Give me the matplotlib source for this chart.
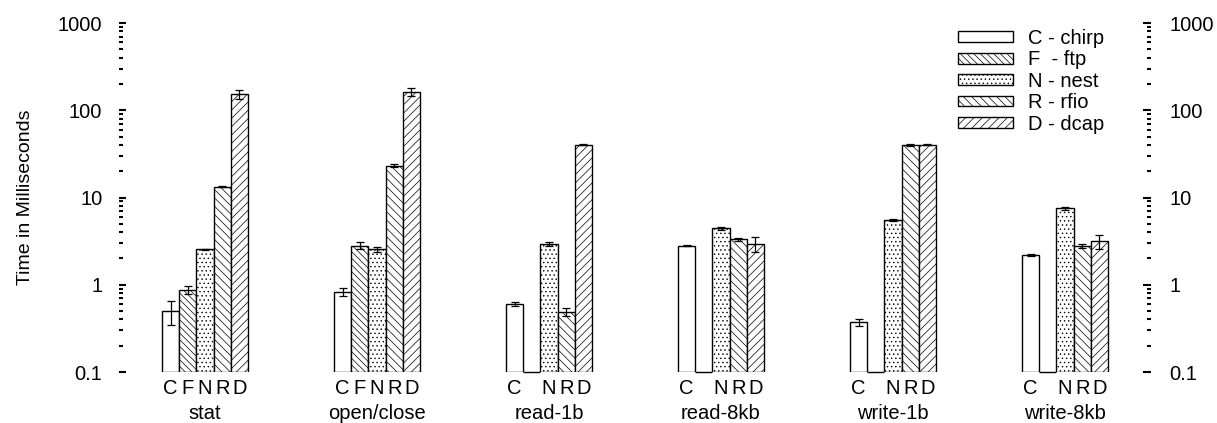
import numpy as np
import matplotlib.pyplot as plt
from matplotlib.patches import Patch

plt.rcParams['font.family'] = ['Liberation Sans', 'DejaVu Sans']
plt.rcParams['hatch.linewidth'] = 0.5

# --- data (ms, log scale); None = not measured ---
groups = ['stat', 'open/close', 'read-1b', 'read-8kb', 'write-1b', 'write-8kb']
series = ['C - chirp', 'F  - ftp', 'N - nest', 'R - rfio', 'D - dcap']
letters = ['C', 'F', 'N', 'R', 'D']

chirp = [0.50, 0.83, 0.60, 2.80, 0.375, 2.20]
ftp = [0.87, 2.80, None, None, None, None]
nest = [2.54, 2.54, 2.93, 4.43, 5.52, 7.5]
rfio = [13.3, 23.2, 0.49, 3.31, 39.8, 2.80]
dcap = [153, 161, 40.1, 2.95, 40.1, 3.14]

chirp_err = [0.15, 0.09, 0.035, 0.05, 0.035, 0.04]
ftp_err = [0.09, 0.26, None, None, None, None]
nest_err = [0.05, 0.15, 0.15, 0.15, 0.08, 0.3]
rfio_err = [0.2, 1.0, 0.05, 0.15, 1.0, 0.15]
dcap_err = [17, 17, 0.5, 0.6, 0.5, 0.6]

values = [chirp, ftp, nest, rfio, dcap]
errors = [chirp_err, ftp_err, nest_err, rfio_err, dcap_err]
hatches = ['', '\\\\\\\\\\', '....', '\\\\\\\\', '////']

ymin = 0.1
fs = 14.5

fig = plt.figure(figsize=(12.17, 4.23), dpi=100)
ax = fig.add_axes([119 / 1217, 1 - 372 / 423, (1151 - 119) / 1217, (372 - 23) / 423])
ax.set_yscale('log')
ax.set_ylim(ymin, 1000)
ax.set_xlim(-3, 57)

tick_pos = []
tick_lab = []
for i, g in enumerate(groups):
    for j in range(5):
        x = 10 * i + j
        v = values[j][i]
        if v is None:
            # flat bar at baseline
            ax.bar(x, 0, bottom=ymin, width=1, facecolor='white',
                   edgecolor='black', linewidth=1, clip_on=False)
            continue
        ax.bar(x, v - ymin, bottom=ymin, width=1, facecolor='white',
               edgecolor='black', hatch=hatches[j], linewidth=1, zorder=2)
        e = errors[j][i]
        ax.errorbar(x, v, yerr=e, fmt='none', ecolor='black',
                    elinewidth=0.9, capsize=3, capthick=0.9, zorder=3)
        tick_pos.append(x)
        tick_lab.append(letters[j])
    ax.text(10 * i + 2, -0.118, g, transform=ax.get_xaxis_transform(),
            ha='center', va='center', fontsize=fs)

ax.set_xticks(tick_pos)
ax.set_xticklabels(tick_lab, fontsize=fs)
ax.tick_params(axis='x', length=0, pad=5)

for s in ax.spines.values():
    s.set_visible(False)

ax.set_yticks([0.1, 1, 10, 100, 1000])
ax.set_yticklabels(['0.1', '1', '10', '100', '1000'])
ax.tick_params(axis='y', which='both', direction='in', left=True, right=False,
               labelleft=True, labelright=False, labelsize=fs, pad=12)
ax.tick_params(axis='y', which='major', length=5, width=1.5)
ax.tick_params(axis='y', which='minor', length=3, width=1.5)
ax.set_ylabel('Time in Milliseconds', fontsize=14, labelpad=17)

# right-hand axis, same scale
ax2 = ax.twinx()
ax2.set_yscale('log')
ax2.set_ylim(ax.get_ylim())
ax2.set_yticks([0.1, 1, 10, 100, 1000])
ax2.set_yticklabels(['0.1', '1', '10', '100', '1000'])
for s in ax2.spines.values():
    s.set_visible(False)
ax2.tick_params(axis='y', which='both', direction='in', labelsize=fs, pad=13)
ax2.tick_params(axis='y', which='major', length=6, width=1.5)
ax2.tick_params(axis='y', which='minor', length=3, width=1.5)

handles = [Patch(facecolor='white', edgecolor='black', hatch=h, linewidth=1)
           for h in hatches]
ax.legend(handles, series, loc='upper left', frameon=False,
          bbox_to_anchor=(958 / 1217, 1 - 29 / 423), bbox_transform=fig.transFigure,
          fontsize=fs, handlelength=2.75, handleheight=0.45, labelspacing=0.12,
          handletextpad=0.75, borderpad=0, borderaxespad=0)

fig.savefig('out.png', dpi=100)
